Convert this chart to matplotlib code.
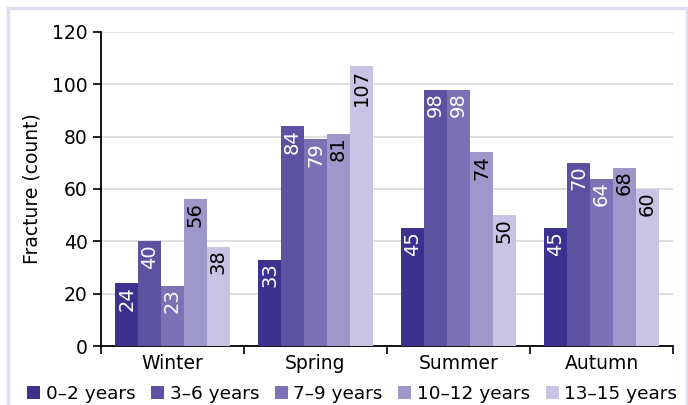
import numpy as np
import matplotlib.pyplot as plt
from matplotlib.patches import Rectangle

# data
seasons = ["Winter", "Spring", "Summer", "Autumn"]
groups = ["0–2 years", "3–6 years", "7–9 years", "10–12 years", "13–15 years"]
age_0_2 = [24, 33, 45, 45]
age_3_6 = [40, 84, 98, 70]
age_7_9 = [23, 79, 98, 64]
age_10_12 = [56, 81, 74, 68]
age_13_15 = [38, 107, 50, 60]

series = [age_0_2, age_3_6, age_7_9, age_10_12, age_13_15]
colors = ["#3d3190", "#5d52a2", "#7b71b4", "#9e97c9", "#c9c4e3"]
label_colors = ["white", "white", "white", "black", "black"]

plt.rcParams['font.family'] = ['DejaVu Sans']

fig = plt.figure(figsize=(6.88, 4.05), dpi=100)
ax = fig.add_axes([101 / 688, 1 - 346 / 405, 572 / 688, 314 / 405])

# light border around the chart
fig.patches.append(Rectangle((8 / 688, -0.01), 679 / 688, 1 - 8 / 405 + 0.01,
                             transform=fig.transFigure, fill=False,
                             edgecolor="#e0ddf0", linewidth=2.5))

x = np.arange(len(seasons))
w = 0.16
for i, vals in enumerate(series):
    pos = x + (i - 2) * w
    bars = ax.bar(pos, vals, width=w, color=colors[i], label=groups[i], zorder=3)
    for b, v in zip(bars, vals):
        ax.text(b.get_x() + b.get_width() / 2, v - 1.0, str(v), rotation=90,
                ha="center", va="top", fontsize=14, color=label_colors[i], zorder=4)

ax.set_xlim(-0.5, 3.5)
ax.set_ylim(0, 120)
ax.set_yticks(range(0, 121, 20))
ax.set_xticks(x)
ax.set_xticklabels(seasons, fontsize=13.5)
ax.set_xticks(np.arange(-0.5, 4, 1), minor=True)
ax.tick_params(axis="x", which="major", length=0, pad=6)
ax.tick_params(axis="x", which="minor", length=6, width=1.2, direction="out")
ax.tick_params(axis="y", labelsize=13.5, length=6, width=1.2, direction="out")
ax.grid(axis="y", color="#d9d9d9", linewidth=1.2, zorder=0)
ax.spines["top"].set_visible(False)
ax.spines["right"].set_visible(False)
ax.spines["left"].set_linewidth(1.3)
ax.spines["bottom"].set_linewidth(1.3)
ax.set_ylabel("Fracture (count)", fontsize=13.5, labelpad=8)

fig.legend(loc="lower center", bbox_to_anchor=(0.512, -0.035), ncol=5, frameon=False,
           fontsize=13.3, handlelength=0.7, handleheight=0.7, handletextpad=0.3,
           columnspacing=0.85)

fig.savefig("out.png", dpi=100)
